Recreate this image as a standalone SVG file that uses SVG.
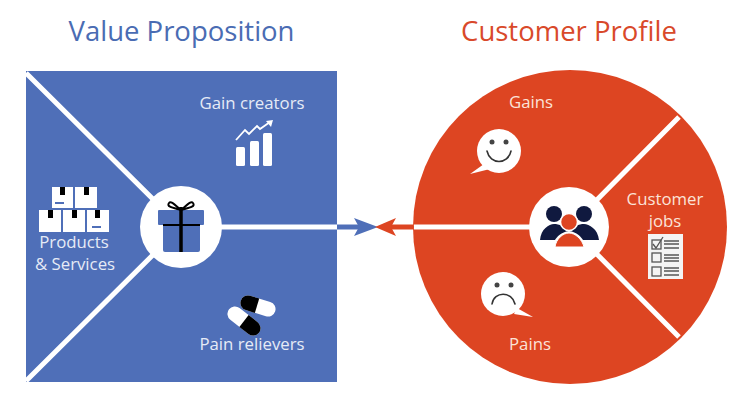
<svg xmlns="http://www.w3.org/2000/svg" width="750" height="400" viewBox="0 0 750 400">
<style>
text{font-family:"Open Sans","Noto Sans",sans-serif}
.t{font-size:27.500px;text-anchor:middle}
.l{font-size:16.800px;fill:#e6ebf6;text-anchor:middle}
.r{font-size:16.800px;fill:#fbe3d8;text-anchor:middle}
.w{stroke:#fff;stroke-width:5;fill:none}
.b{fill:#4f6fb8}.o{fill:#dd4522}.n{fill:#10193f}.k{fill:#000}.f{fill:#fff}
.thin{fill:none;stroke:#333;stroke-width:1.6;stroke-linecap:round}
</style>
<rect width="750" height="400" fill="#fff"/>
<text class="t" x="181.500" y="41" fill="#4a6cb3">Value Proposition</text>
<text class="t" x="569" y="41" fill="#d9492a">Customer Profile</text>
<g id="value-square"><rect class="b" x="26" y="71" width="311" height="311"/></g>
<g id="customer-circle"><circle class="o" cx="570" cy="227" r="157"/></g>
<g id="connectors">
<path class="w" d="M26 73L181 227L26 381M181 227H337"/>
<path class="w" d="M570 227H414M570 227L679 117M570 227L679 337"/>
<path d="M337 227H366" stroke="#4f6fb8" stroke-width="5" fill="none"/>
<path class="b" d="M354 218L378 227L354 236L359 227Z"/>
<path d="M413 227H385" stroke="#dd4522" stroke-width="5" fill="none"/>
<path class="o" d="M396 218L375 227L396 236L391 227Z"/>
</g>
<g id="hub-value">
<circle class="f" cx="181" cy="227" r="41"/>
<rect class="b" x="163" y="213" width="37" height="39" rx="2"/>
<rect class="b" x="158" y="210" width="46" height="15" rx="1"/>
<path d="M181 207V252" stroke="#000" stroke-width="3.500"/>
<path d="M163 225H200" stroke="#000" stroke-width="2"/>
<path d="M181 210C176 206 171 200 169 203C166 207 174 208 181 210C188 208 196 207 193 203C191 200 186 206 181 210Z" fill="none" stroke="#000" stroke-width="2"/>
</g>
<g id="hub-customer">
<circle class="f" cx="569" cy="227" r="40"/>
<circle class="n" cx="554" cy="214" r="8"/>
<circle class="n" cx="584" cy="214" r="8"/>
<path class="n" d="M540 240C541 229 549 224 554 224C559 224 565 226 569 231C561 232 557 237 555 240Z"/>
<path class="n" d="M599 240C598 229 589 224 584 224C579 224 573 226 569 231C577 232 581 237 583 240Z"/>
<circle class="o" cx="569" cy="222" r="8.500" stroke="#fff" stroke-width="1.500"/>
<path class="o" d="M555 247C556 239 563 233 569 233C575 233 582 239 584 247Z" stroke="#fff" stroke-width="1"/>
</g>
<g id="gain-creators">
<text class="l" x="252" y="109">Gain creators</text>
<rect class="f" x="236" y="147" width="9" height="19" rx="1.500"/>
<rect class="f" x="250" y="141" width="9" height="25" rx="1.500"/>
<rect class="f" x="263" y="133" width="9" height="33" rx="1.500"/>
<path d="M236 140L245 130L249 134L257 126L260 129L270 122" fill="none" stroke="#fff" stroke-width="1.800"/>
<path class="f" d="M266 121L273 120L271 127Z"/>
</g>
<g id="products-services">
<g class="f"><rect x="52" y="187" width="21" height="21"/><rect x="75" y="187" width="22" height="21"/><rect x="39" y="210" width="22" height="22"/><rect x="63" y="210" width="22" height="22"/><rect x="87" y="210" width="22" height="22"/></g>
<g class="k"><rect x="60" y="187" width="5" height="8"/><rect x="84" y="187" width="5" height="8"/><rect x="48" y="210" width="5" height="8"/><rect x="72" y="210" width="5" height="8"/><rect x="95" y="210" width="5" height="8"/></g>
<g class="b"><rect x="55" y="202" width="9" height="2"/><rect x="92" y="226" width="9" height="2"/></g>
<text class="l" x="74" y="248">Products</text>
<text class="l" x="75" y="270">&amp; Services</text>
</g>
<g id="pain-relievers">
<g transform="translate(258 306) rotate(17)"><rect class="f" x="-18" y="-7.500" width="36" height="15" rx="7.500"/><path class="k" d="M-1 -7.500H-10.500A7.500 7.500 0 0 0 -10.500 7.500H-1Z"/></g>
<g transform="translate(244 321) rotate(38)"><rect class="f" x="-19" y="-7.500" width="38" height="15" rx="7.500"/><path class="k" d="M0 -7.500H11.500A7.500 7.500 0 0 1 11.500 7.500H0Z"/></g>
<text class="l" x="252" y="350">Pain relievers</text>
</g>
<g id="gains">
<text class="r" x="531" y="108">Gains</text>
<circle class="f" cx="499" cy="151" r="22"/>
<path class="f" d="M484 164L470 174L490 169Z"/>
<circle cx="492" cy="142" r="2.500" fill="#444"/><circle cx="506" cy="142" r="2.500" fill="#444"/>
<path class="thin" d="M487 151C490 165 508 165 511 151"/>
</g>
<g id="pains">
<circle class="f" cx="503" cy="294" r="22"/>
<path class="f" d="M517 308L533 317L514 314Z"/>
<circle cx="497" cy="285" r="2.500" fill="#444"/><circle cx="511" cy="285" r="2.500" fill="#444"/>
<path class="thin" d="M492 304C494 291 512 291 515 304"/>
<text class="r" x="530" y="350">Pains</text>
</g>
<g id="customer-jobs">
<text class="r" x="665" y="205">Customer</text>
<text class="r" x="665" y="227">jobs</text>
<rect x="648" y="234" width="35" height="45" fill="#f4f4f4"/>
<g fill="none" stroke="#555" stroke-width="1.300"><rect x="652" y="240" width="9" height="9"/><rect x="652" y="253" width="9" height="9"/><rect x="652" y="267" width="9" height="9"/>
<path d="M664 241H679M664 244H679M664 248H679M664 255H679M664 258H679M664 261H679M664 268H679M664 271H679M664 275H679"/><path d="M653 244L656 248L663 237"/></g>
</g>
</svg>
